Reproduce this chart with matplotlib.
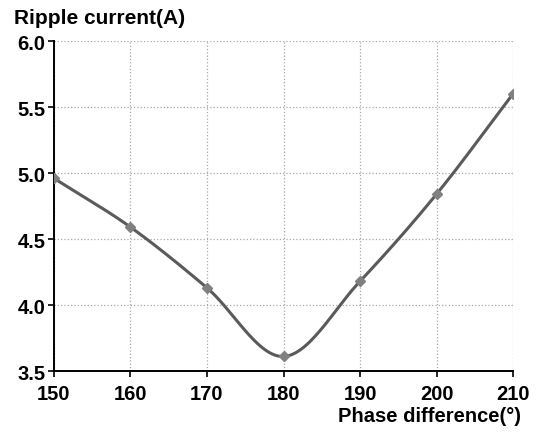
import numpy as np
import matplotlib
matplotlib.use("Agg")
import matplotlib.pyplot as plt

plt.rcParams['font.family'] = ['Liberation Sans', 'DejaVu Sans']

# data
phase = [150, 160, 170, 180, 190, 200, 210]
ripple = [4.96, 4.59, 4.13, 3.61, 4.18, 4.84, 5.60]
x_ticks = [150, 160, 170, 180, 190, 200, 210]
y_ticks = [3.5, 4.0, 4.5, 5.0, 5.5, 6.0]


def smooth_line(x, y, n=30):
    # Catmull-Rom style smoothing, like a spreadsheet "smoothed line"
    x = np.asarray(x, float)
    y = np.asarray(y, float)
    px = np.concatenate([[2 * x[0] - x[1]], x, [2 * x[-1] - x[-2]]])
    py = np.concatenate([[2 * y[0] - y[1]], y, [2 * y[-1] - y[-2]]])
    xs, ys = [], []
    t = np.linspace(0, 1, n)
    for i in range(1, len(px) - 2):
        p0, p1, p2, p3 = [np.array([px[j], py[j]]) for j in range(i - 1, i + 3)]
        tt = t[:, None]
        pts = 0.5 * ((2 * p1) + (-p0 + p2) * tt + (2 * p0 - 5 * p1 + 4 * p2 - p3) * tt ** 2
                     + (-p0 + 3 * p1 - 3 * p2 + p3) * tt ** 3)
        xs.extend(pts[:, 0])
        ys.extend(pts[:, 1])
    return np.array(xs), np.array(ys)


fig = plt.figure(figsize=(5.43, 4.35), dpi=100)
ax = fig.add_axes([0.0994, 0.1448, 0.8454, 0.7586])

sx, sy = smooth_line(phase, ripple)
ax.plot(sx, sy, color='#5a5a5a', linewidth=2.2, zorder=3)
ax.plot(phase, ripple, linestyle='none', marker='D', markersize=5.5,
        color='#808080', zorder=4)

ax.set_xlim(150, 210)
ax.set_ylim(3.5, 6.0)
ax.set_xticks(x_ticks)
ax.set_yticks(y_ticks)
ax.set_yticklabels([f"{v:.1f}" for v in y_ticks])
ax.tick_params(labelsize=14.5, width=1.2, length=4, direction='out')
ax.tick_params(axis='y', pad=2)
ax.tick_params(axis='x', pad=5)
for lab in ax.get_xticklabels() + ax.get_yticklabels():
    lab.set_fontweight('bold')

ax.grid(True, color='#a8a8a8', linestyle=':', linewidth=0.9)
ax.spines['top'].set_visible(False)
ax.spines['right'].set_visible(False)
ax.spines['left'].set_linewidth(1.4)
ax.spines['bottom'].set_linewidth(1.4)

fig.text(14 / 543, 1 - 18 / 435, 'Ripple current(A)', fontsize=15,
         fontweight='bold', ha='left', va='center')
fig.text(521 / 543, 1 - 417 / 435, 'Phase difference(°)', fontsize=14.5,
         fontweight='bold', ha='right', va='center')

fig.savefig('out.png', dpi=100)
